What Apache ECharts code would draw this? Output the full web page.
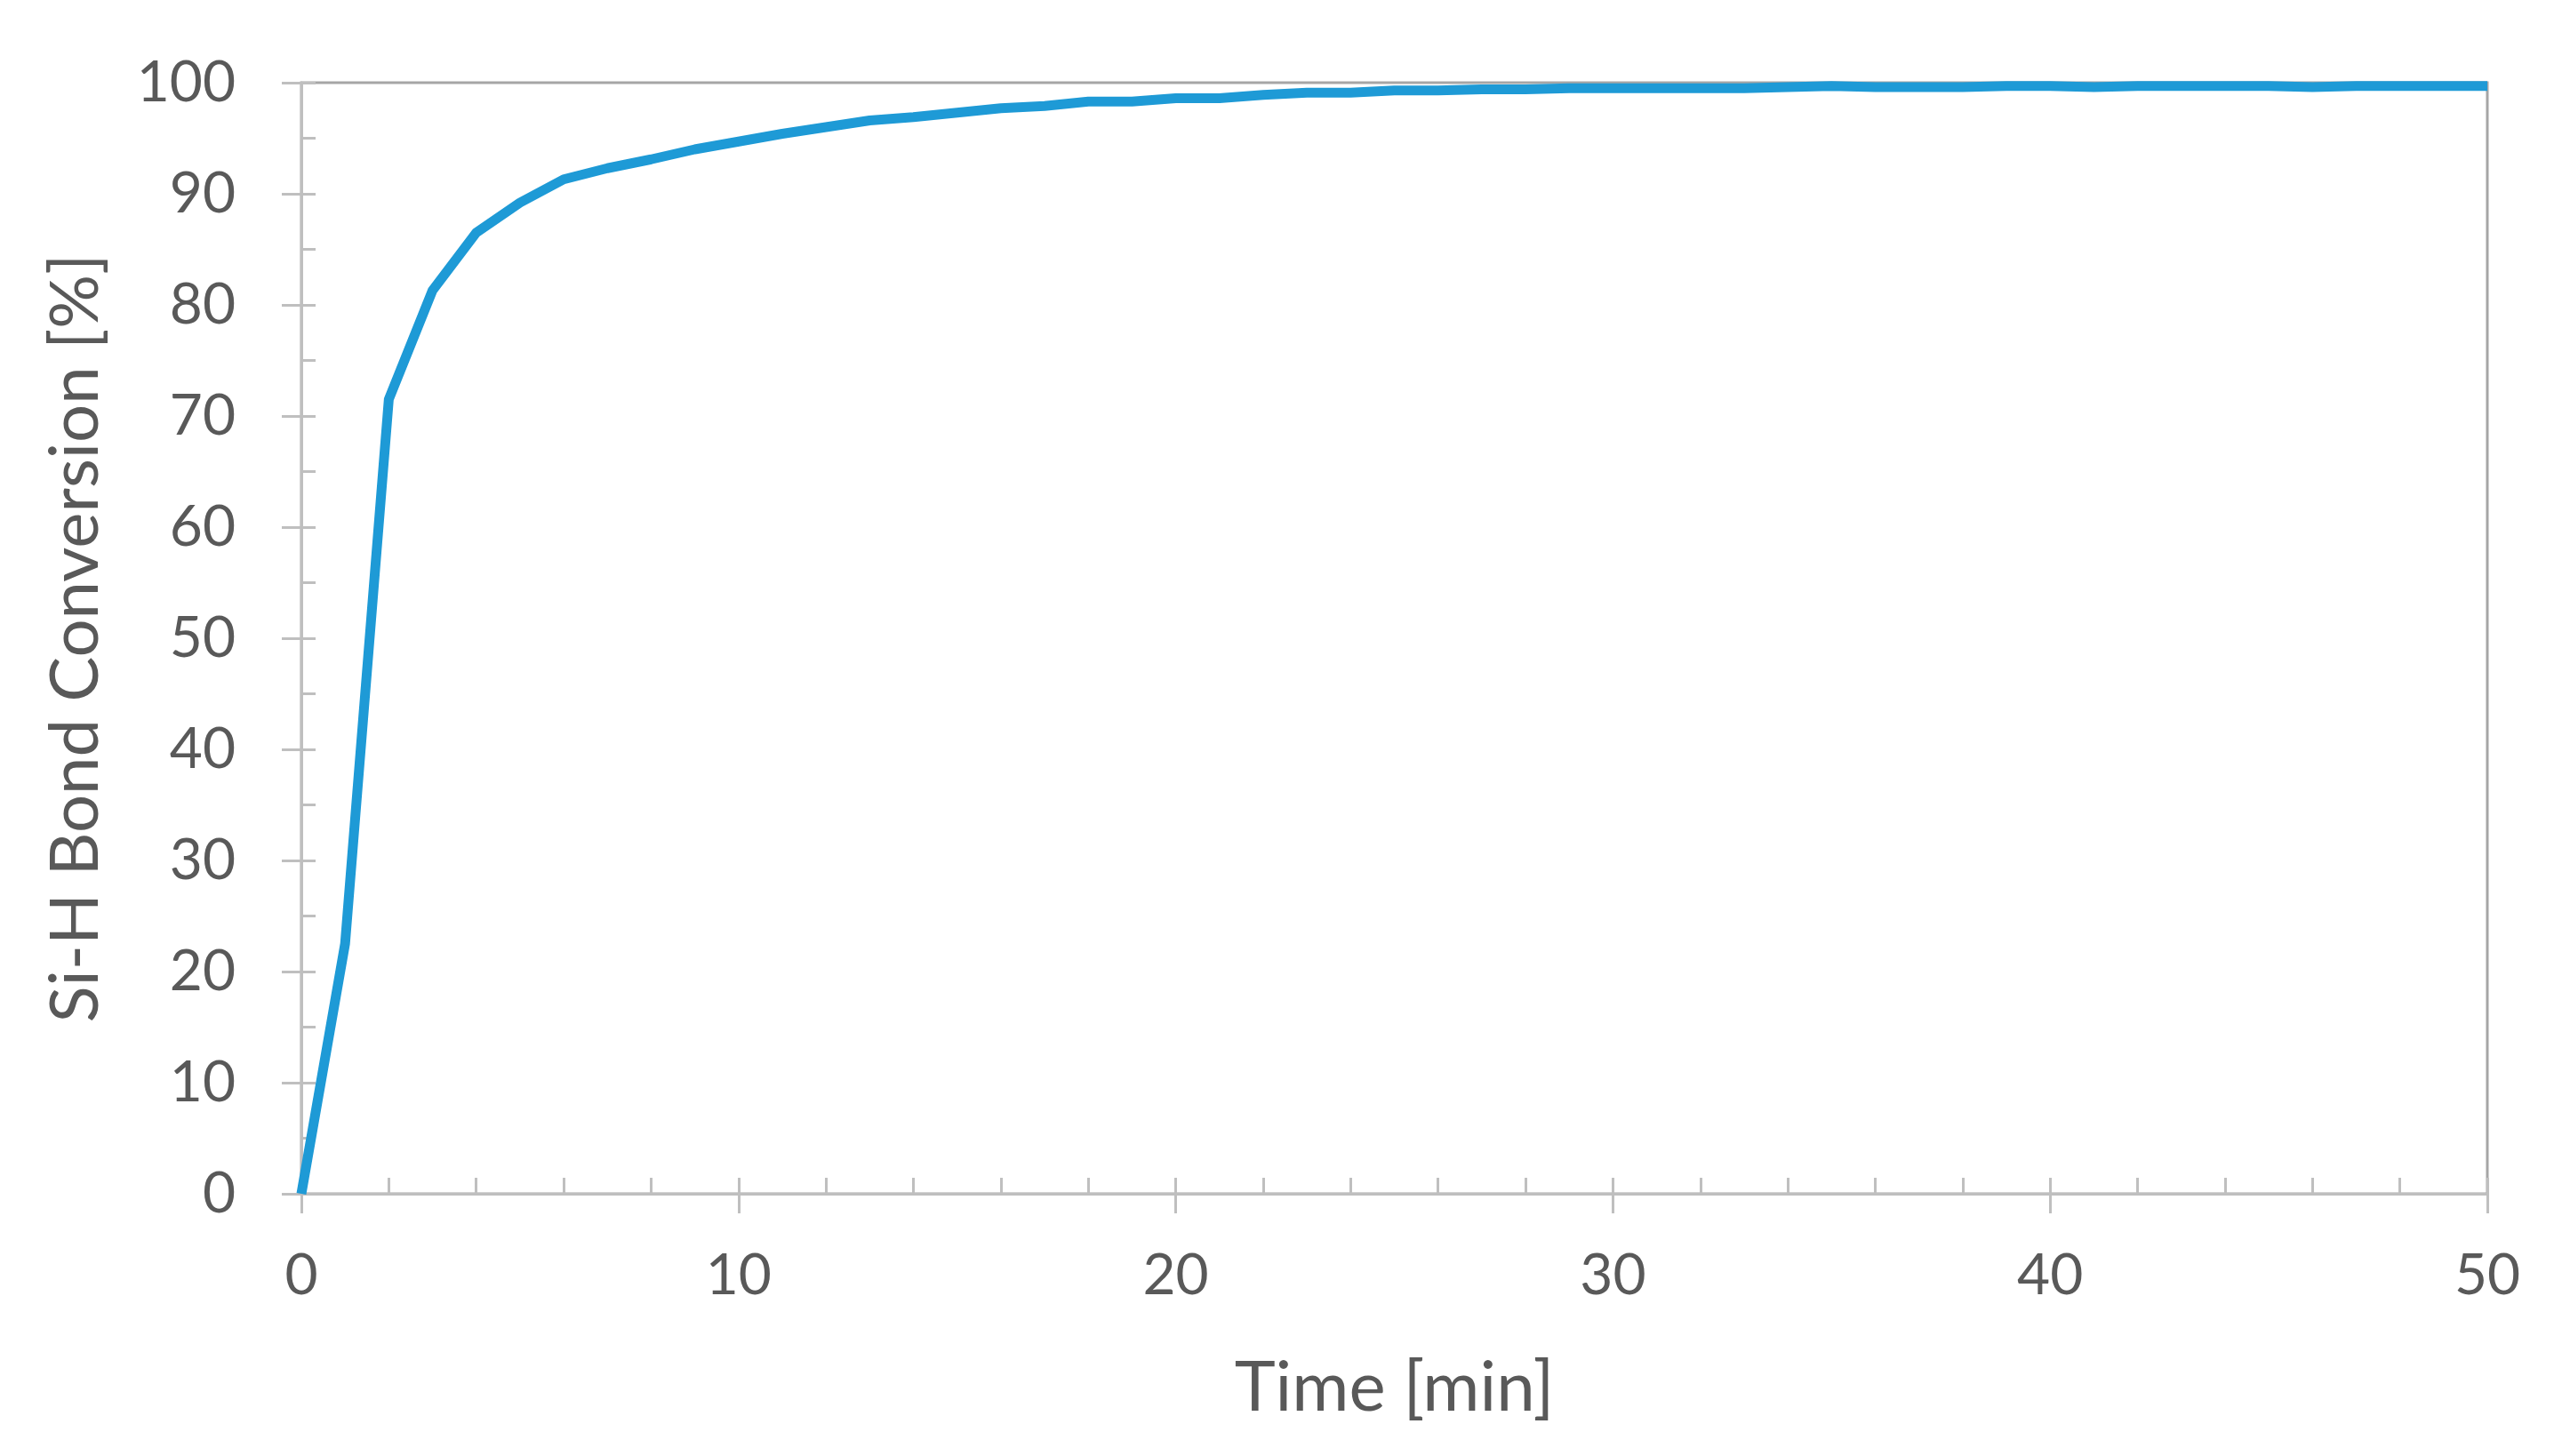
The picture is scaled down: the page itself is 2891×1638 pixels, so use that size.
<!DOCTYPE html>
<html>
<head>
<meta charset="utf-8">
<title>Si-H Bond Conversion</title>
<script src="https://cdn.jsdelivr.net/npm/echarts@6/dist/echarts.min.js"></script>
<style>
    html, body { margin: 0; padding: 0; background: #fff; }
    #chart { width: 2891px; height: 1638px; }
</style>
</head>
<body>
<div id="chart"></div>
<script>
// time in minutes, one reading per minute
var time_min = [0, 1, 2, 3, 4, 5, 6, 7, 8, 9, 10, 11, 12, 13, 14, 15, 16, 17, 18, 19, 20,
    21, 22, 23, 24, 25, 26, 27, 28, 29, 30, 31, 32, 33, 34, 35, 36, 37, 38, 39, 40,
    41, 42, 43, 44, 45, 46, 47, 48, 49, 50];
// Si-H bond conversion [%]
var conversion = [0, 22.5, 71.5, 81.3, 86.5, 89.2, 91.3, 92.3, 93.1, 94.0, 94.7,
    95.4, 96.0, 96.6, 96.9, 97.3, 97.7, 97.9, 98.3, 98.3, 98.6,
    98.6, 98.9, 99.1, 99.1, 99.3, 99.3, 99.4, 99.4, 99.5, 99.5,
    99.5, 99.5, 99.5, 99.6, 99.7, 99.6, 99.6, 99.6, 99.7, 99.7,
    99.6, 99.7, 99.7, 99.7, 99.7, 99.6, 99.7, 99.7, 99.7, 99.7];

var x_ticks = [0, 10, 20, 30, 40, 50];
var y_ticks = [0, 10, 20, 30, 40, 50, 60, 70, 80, 90, 100];

var points = time_min.map(function (t, i) {
    return [t, conversion[i]];
});

var axisGrey = '#bfbfbf';
var textGrey = '#595959';
var font = 'Lato, "Open Sans", sans-serif';

var myChart = echarts.init(document.getElementById('chart'));
var option = {
    backgroundColor: '#ffffff',
    animation: false,
    grid: {
        left: 339,
        right: 93,
        top: 93,
        bottom: 295,
        show: true,
        borderColor: '#a6a6a6',
        borderWidth: 3,
        backgroundColor: 'transparent'
    },
    xAxis: [{
        type: 'value',
        min: x_ticks[0],
        max: x_ticks[x_ticks.length - 1],
        interval: 10,
        position: 'bottom',
        name: 'Time [min]',
        nameLocation: 'middle',
        nameGap: 180,
        nameTextStyle: { fontFamily: font, fontSize: 78, color: textGrey },
        axisLine: { lineStyle: { color: axisGrey, width: 3 } },
        axisTick: { show: true, inside: false, length: 22, lineStyle: { color: axisGrey, width: 3 } },
        axisLabel: { margin: 60, fontFamily: font, fontSize: 64, color: textGrey },
        splitLine: { show: false }
    }, {
        // inside ticks: major half of the cross ticks plus minor ticks
        type: 'value',
        min: x_ticks[0],
        max: x_ticks[x_ticks.length - 1],
        interval: 10,
        position: 'bottom',
        axisLine: { show: false },
        axisTick: { show: true, inside: true, length: 18, lineStyle: { color: axisGrey, width: 3 } },
        minorTick: { show: true, splitNumber: 5, length: 18, lineStyle: { color: axisGrey, width: 3 } },
        axisLabel: { show: false },
        splitLine: { show: false }
    }],
    yAxis: [{
        type: 'value',
        min: y_ticks[0],
        max: y_ticks[y_ticks.length - 1],
        interval: 10,
        position: 'left',
        name: 'Si-H Bond Conversion [%]',
        nameLocation: 'middle',
        nameGap: 216,
        nameTextStyle: { fontFamily: font, fontSize: 76, color: textGrey },
        axisLine: { show: true, lineStyle: { color: axisGrey, width: 3 } },
        axisTick: { show: true, inside: false, length: 22, lineStyle: { color: axisGrey, width: 3 } },
        axisLabel: { margin: 74, fontFamily: font, fontSize: 64, color: textGrey },
        splitLine: { show: false }
    }, {
        type: 'value',
        min: y_ticks[0],
        max: y_ticks[y_ticks.length - 1],
        interval: 10,
        position: 'left',
        axisLine: { show: false },
        axisTick: { show: true, inside: true, length: 16, lineStyle: { color: axisGrey, width: 3 } },
        minorTick: { show: true, splitNumber: 2, length: 16, lineStyle: { color: axisGrey, width: 3 } },
        axisLabel: { show: false },
        splitLine: { show: false }
    }],
    series: [{
        name: 'Si-H Bond Conversion',
        type: 'line',
        xAxisIndex: 0,
        yAxisIndex: 0,
        showSymbol: false,
        symbol: 'none',
        lineStyle: { color: '#1e9ad6', width: 11, join: 'round' },
        data: points
    }]
};
myChart.setOption(option);
</script>
</body>
</html>
